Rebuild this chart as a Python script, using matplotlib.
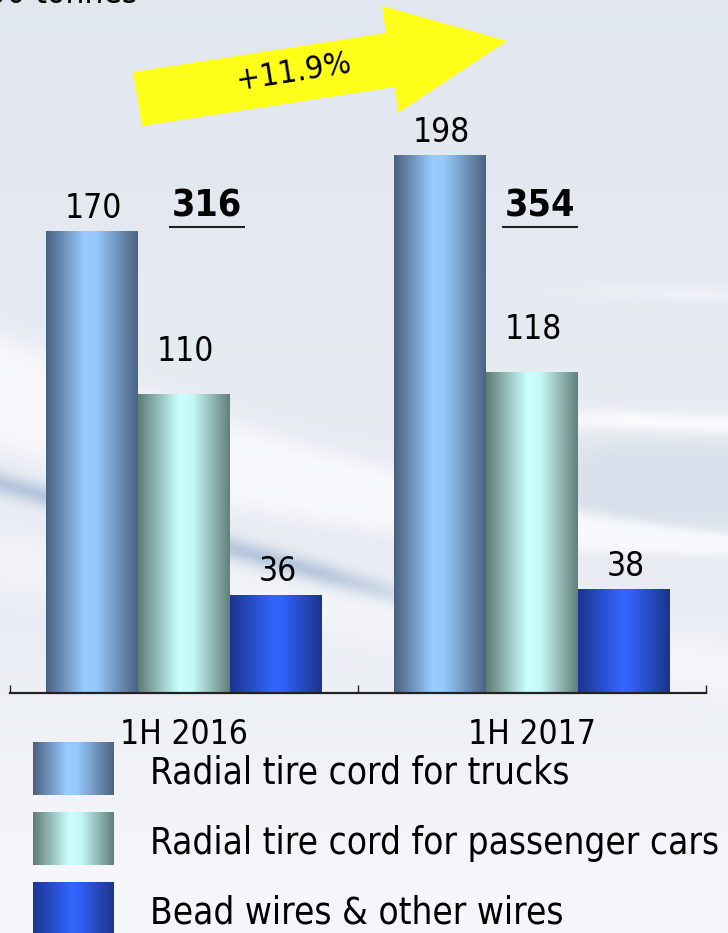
import numpy as np
import matplotlib
matplotlib.use('Agg')
import matplotlib.pyplot as plt
from matplotlib.colors import LinearSegmentedColormap
from matplotlib.patches import Polygon

plt.rcParams['font.family'] = ['DejaVu Sans']
plt.rcParams['font.stretch'] = 'condensed'

# data
categories = ['1H 2016', '1H 2017']
series = ['Radial tire cord for trucks',
          'Radial tire cord for passenger cars',
          'Bead wires & other wires']
trucks = [170, 198]
passenger = [110, 118]
bead = [36, 38]
growth_label = '+11.9%'
unit_label = "'000 tonnes"

W, H = 728, 933
fig = plt.figure(figsize=(W / 100, H / 100), dpi=100)

# background with soft swooshes
yy, xx = np.mgrid[0:H, 0:W].astype(float)
t = yy / H
bg = np.zeros((H, W, 3))
top = np.array([0.885, 0.905, 0.94])
bot = np.array([0.93, 0.94, 0.96])
for k in range(3):
    bg[..., k] = top[k] * (1 - t) + bot[k] * t

def band(c0, c1, c2, sig, p=2):
    d = yy - (c0 + c1 * xx + c2 * xx ** 2)
    return np.exp(-np.abs(d / sig) ** p)

def mix(img, w, col):
    return img * (1 - w[..., None]) + np.array(col) * w[..., None]

# darker blue-grey zone on the right
bg = mix(bg, 0.5 * band(485, 0.0, 0.0, 45, 4) * np.clip((xx - 420) / 200, 0, 1), (0.79, 0.83, 0.89))
# main white swoosh
sig_main = np.maximum(60 - 0.068 * xx, 10)
d = yy - (392 + 0.355 * xx - 0.000201 * xx ** 2)
bg = mix(bg, 0.85 * np.exp(-np.abs(d / sig_main) ** 4), (0.99, 0.99, 1.0))
# thin upper-right swooshes
bg = mix(bg, 0.8 * band(395, 0.04, 0.0, 10, 2) * np.clip((xx - 430) / 200, 0, 1), (1, 1, 1))
bg = mix(bg, 0.35 * band(280, 0.02, 0.0, 8, 2) * np.clip((xx - 520) / 150, 0, 1), (1, 1, 1))
# lower white haze
bg = mix(bg, 0.45 * band(560, 0.15, 0.0, 30, 2), (1, 1, 1))
# blue streak on the left
bg = mix(bg, 0.55 * band(483, 0.28, 0.0, 11, 2) * np.clip((470 - xx) / 150, 0, 1), (0.56, 0.66, 0.8))
# whiter towards the bottom
bg = mix(bg, np.clip((yy - 620) / 250, 0, 1) * 0.45, (1, 1, 1))

bax = fig.add_axes([0, 0, 1, 1], zorder=0)
bax.imshow(np.clip(bg, 0, 1), extent=[0, W, H, 0], aspect='auto')
bax.set_xlim(0, W)
bax.set_ylim(H, 0)
bax.axis('off')

# main axes
ax = fig.add_axes([10 / W, 240 / H, 696 / W, 693 / H], zorder=1)
ax.patch.set_alpha(0)

cmaps = [
    LinearSegmentedColormap.from_list('trk', [(0, '#4a6080'), (0.42, '#99ccff'), (0.55, '#96c8fa'), (1, '#4b6383')]),
    LinearSegmentedColormap.from_list('pas', [(0, '#5f7c77'), (0.45, '#ccffff'), (0.6, '#c4f6f4'), (1, '#62807b')]),
    LinearSegmentedColormap.from_list('bed', [(0, '#1b3590'), (0.48, '#3366ff'), (0.58, '#3060f5'), (1, '#1c3588')]),
]
label_off = [10, 24, 10]  # points above bar top

x = np.arange(len(categories))
bw = 92 / 348
grad = np.linspace(0, 1, 256)[None, :]
for j, (vals, cm) in enumerate(zip([trucks, passenger, bead], cmaps)):
    bars = ax.bar(x + (j - 1) * bw, vals, width=bw, color='none', linewidth=0)
    for rect, v in zip(bars, vals):
        x0, w = rect.get_x(), rect.get_width()
        ax.imshow(grad, cmap=cm, extent=[x0, x0 + w, 0, v], aspect='auto', zorder=2)
        ax.annotate(str(v), (x0 + w / 2, v), xytext=(1, label_off[j]), textcoords='offset points',
                    ha='center', va='baseline', fontsize=24)

# totals
totals = [a + b + c for a, b, c in zip(trucks, passenger, bead)]
tot_dx = [0.066, 0.023]
for i, tot in enumerate(totals):
    ax.text(i + tot_dx[i], 175.5, str(tot), ha='center', va='baseline',
            fontsize=27, fontweight='bold')
    ax.plot([i + tot_dx[i] - 0.108, i + tot_dx[i] + 0.108], [171.5, 171.5],
            color='#222222', lw=1.5, solid_capstyle='butt')

ax.set_xlim(-0.5, 1.5)
ax.set_ylim(0, 693 / 2.715)
for s in ['left', 'right', 'top']:
    ax.spines[s].set_visible(False)
ax.spines['bottom'].set_color('#222222')
ax.spines['bottom'].set_linewidth(1.6)
ax.set_yticks([])
ax.set_xticks(x)
ax.set_xticklabels(categories, fontsize=24)
ax.tick_params(axis='x', which='major', length=0, pad=18)
ax.set_xticks([-0.5, 0.5, 1.5], minor=True)
ax.tick_params(axis='x', which='minor', direction='in', length=6, width=1, color='#222222')

# overlay: unit label, growth arrow, legend
ov = fig.add_axes([0, 0, 1, 1], zorder=2)
ov.patch.set_alpha(0)
ov.axis('off')

ov.text(138, 3, unit_label, ha='right', va='baseline', fontsize=24)

arrow = [(133, 72), (142, 126), (395, 87), (398, 113), (507, 41), (382, 6), (386, 33)]
ov.add_patch(Polygon(arrow, closed=True, facecolor='#ffff1a', edgecolor='none'))
ov.text(294, 73, growth_label, ha='center', va='center', rotation=9, fontsize=23)

for k, (name, cm) in enumerate(zip(series, cmaps)):
    y0 = 742 + 70 * k
    ov.imshow(grad, cmap=cm, extent=[33, 114, y0 + 53, y0], aspect='auto')
    ov.text(150, y0 + 31, name, ha='left', va='center', fontsize=26.5)
ov.set_xlim(0, W)
ov.set_ylim(H, 0)

fig.savefig('out.png', dpi=100)
